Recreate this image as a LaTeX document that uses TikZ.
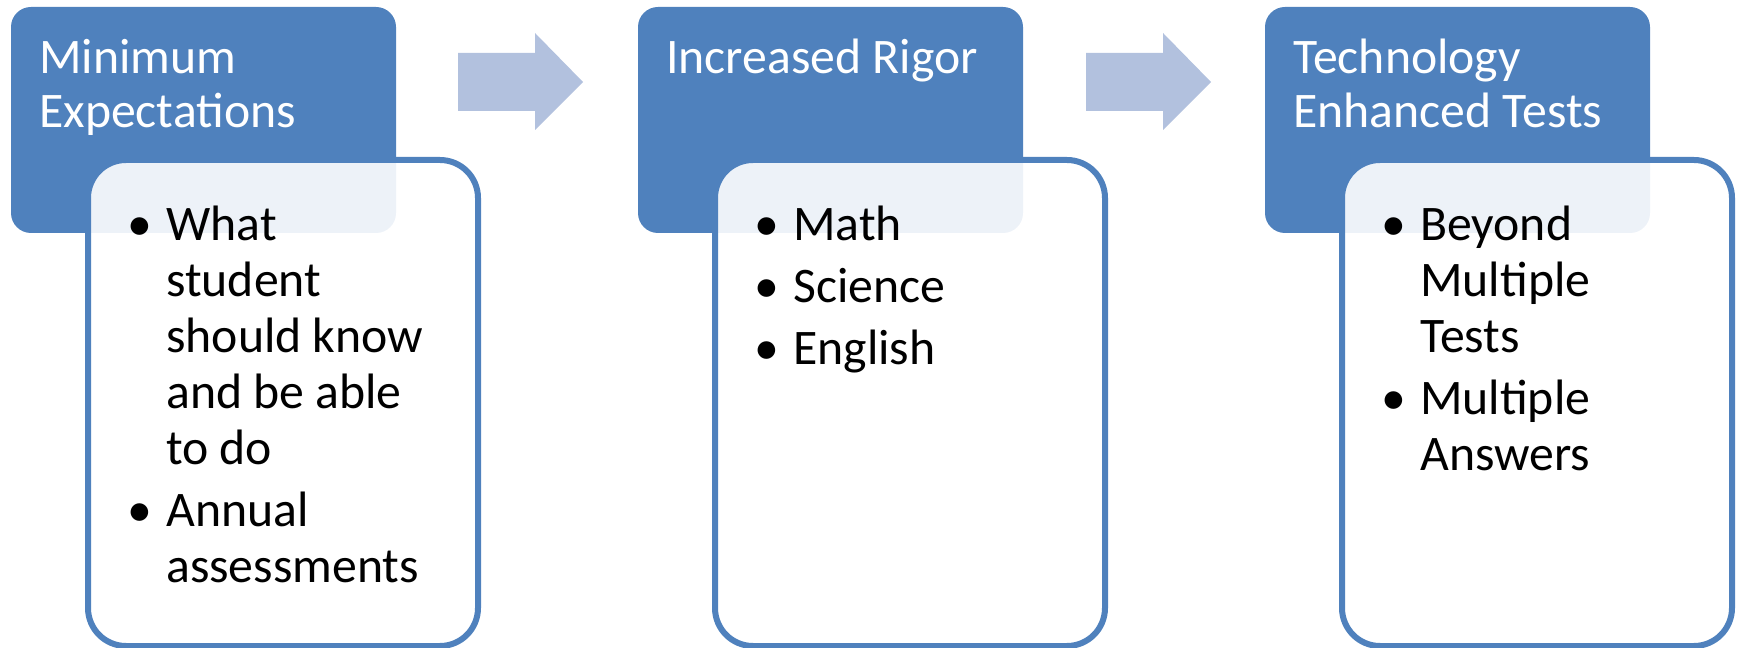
\documentclass[tikz,border=0pt]{standalone}
\usepackage{fontspec}
\setmainfont{Carlito}
\usepackage{xcolor}

\definecolor{hdrblue}{RGB}{79,129,189}
\definecolor{arrowblue}{RGB}{178,193,222}
\newcommand{\itm}{\makebox[30pt][l]{\makebox[21pt][c]{\textbullet}}}

\begin{document}
\begin{tikzpicture}[x=0.75pt,y=0.75pt,yscale=-1,xscale=1,
    header/.style={fill=hdrblue, rounded corners=15pt, minimum width=288.75pt, minimum height=169.5pt, anchor=north west, inner sep=0pt, outer sep=0pt},
    bodybox/.style={draw=hdrblue, line width=4.5pt, fill=white, fill opacity=0.9, rounded corners=28.5pt, minimum width=292.5pt, minimum height=364.5pt, anchor=north west, inner sep=0pt, outer sep=0pt},
    headtext/.style={anchor=base west, inner sep=0pt, text=white, font=\fontsize{37.3}{40.5}\selectfont},
    bodytext/.style={anchor=base west, inner sep=0pt, text=black, font=\fontsize{37.3}{42}\selectfont}]
    \useasboundingbox (0,0) rectangle (1743,648);

    %Shape: Header boxes
    \node [header] (minhead) at (11,7) {};
    \node [header] (righead) at (638,7) {};
    \node [header] (techhead) at (1265,7) {};

    %Shape: Right Arrows
    \fill [arrowblue] (458,53) -- (535,53) -- (535,33) -- (583,82) -- (535,130) -- (535,111) -- (458,111) -- cycle ;
    \fill [arrowblue] (1086,53) -- (1163,53) -- (1163,33) -- (1211,82) -- (1163,130) -- (1163,111) -- (1086,111) -- cycle ;

    %Shape: Body boxes
    \node [bodybox] (minbody) at (88,160) {};
    \node [bodybox] (rigbody) at (715,160) {};
    \node [bodybox] (techbody) at (1342,160) {};

    % Text Node
    \node [headtext] (mintitle) at (39,74) {\begin{tabular}[t]{@{}l@{}}Minimum\\Expectations\end{tabular}};
    % Text Node
    \node [headtext] (rigtitle) at (666,74) {\begin{tabular}[t]{@{}l@{}}Increased Rigor\end{tabular}};
    % Text Node
    \node [headtext] (techtitle) at (1293,74) {\begin{tabular}[t]{@{}l@{}}Technology\\Enhanced Tests\end{tabular}};

    % Text Node
    \node [bodytext] (minlist) at (126,241) {\begin{tabular}[t]{@{}l@{}l@{}}
        \itm & What\\
         & student\\
         & should know\\
         & and be able\\
         & to do\\[4.5pt]
        \itm & Annual\\
         & assessments
    \end{tabular}};
    % Text Node
    \node [bodytext] (riglist) at (753,241) {\begin{tabular}[t]{@{}l@{}l@{}}
        \itm & Math\\[4.5pt]
        \itm & Science\\[4.5pt]
        \itm & English
    \end{tabular}};
    % Text Node
    \node [bodytext] (techlist) at (1380,241) {\begin{tabular}[t]{@{}l@{}l@{}}
        \itm & Beyond\\
         & Multiple\\
         & Tests\\[4.5pt]
        \itm & Multiple\\
         & Answers
    \end{tabular}};

\end{tikzpicture}
\end{document}
